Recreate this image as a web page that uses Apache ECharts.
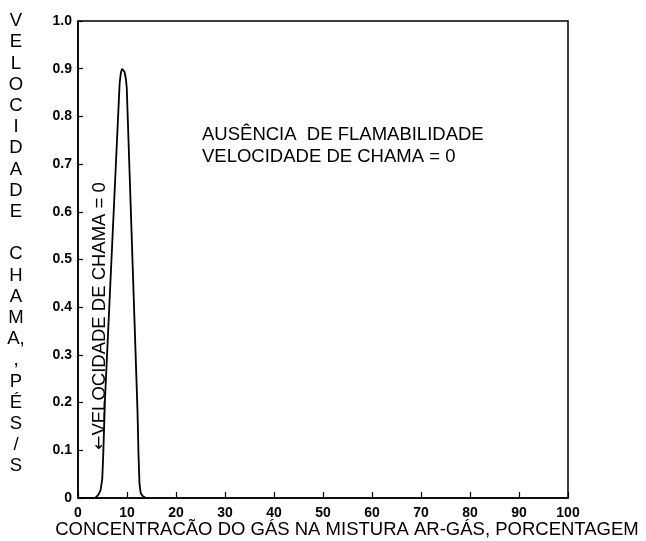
<!DOCTYPE html>
<html>
<head>
<meta charset="utf-8">
<script src="https://cdn.jsdelivr.net/npm/echarts@6/dist/echarts.min.js"></script>
<style>
html,body{margin:0;padding:0;background:#fff;}
#c{width:646px;height:541px;}
</style>
</head>
<body>
<div id="c"></div>
<script>
// Data
var concentration = [0, 3.5, 4.1, 4.6, 4.95, 5.15, 5.3, 5.5, 8.5, 8.75, 9.0, 9.25, 9.5, 9.75, 9.95, 12.15, 12.35, 12.55, 12.8, 13.2, 13.7, 14.5];
var flameSpeed    = [0, 0, 0.006, 0.016, 0.04, 0.09, 0.14, 0.205, 0.87, 0.892, 0.9, 0.9, 0.893, 0.88, 0.86, 0.18, 0.09, 0.03, 0.01, 0.004, 0.001, 0];
var xTickLabels = ['0','10','20','30','40','50','60','70','80','90','100'];
var yTickLabels = ['0','0.1','0.2','0.3','0.4','0.5','0.6','0.7','0.8','0.9','1.0'];
var yTitleLines = ['V','E','L','O','C','I','D','A','D','E','','C','H','A','M','A,',',','P','É','S','/','S'];
var xTitle = 'CONCENTRACÃO DO GÁS NA MISTURA AR-GÁS, PORCENTAGEM';
var noteLines = ['AUSÊNCIA  DE FLAMABILIDADE', 'VELOCIDADE DE CHAMA = 0'];
var sideArrow = '←';
var sideNote = 'VELOCIDADE DE CHAMA = 0';

var pts = concentration.map(function(x, i){ return [x, flameSpeed[i]]; });
var FONT = "'Liberation Sans', Arial, sans-serif";

var chart = echarts.init(document.getElementById('c'));
chart.setOption({
  animation: false,
  backgroundColor: '#fff',
  grid: { left: 78, right: 78, top: 21, bottom: 43, show: true, borderColor: '#000', borderWidth: 1.5, backgroundColor: 'transparent' },
  xAxis: {
    type: 'value', min: 0, max: 100, interval: 10,
    axisLine: { show: true, onZero: false, lineStyle: { color: '#000', width: 1.5 } },
    axisTick: { show: true, inside: true, length: 6, lineStyle: { color: '#000', width: 1.2 } },
    axisLabel: { margin: 8, color: '#000', fontFamily: FONT, fontWeight: 'bold', fontSize: 14,
      formatter: function(v){ return xTickLabels[Math.round(v/10)]; } },
    splitLine: { show: false }
  },
  yAxis: {
    type: 'value', min: 0, max: 1, interval: 0.1,
    axisLine: { show: true, lineStyle: { color: '#000', width: 1.5 } },
    axisTick: { show: true, inside: true, length: 5, lineStyle: { color: '#000', width: 1.2 } },
    axisLabel: { margin: 6, color: '#000', fontFamily: FONT, fontWeight: 'bold', fontSize: 14,
      formatter: function(v){ return yTickLabels[Math.round(v*10)]; } },
    splitLine: { show: false }
  },
  series: [{
    type: 'line', data: pts, showSymbol: false, smooth: false,
    lineStyle: { color: '#000', width: 1.8 }
  }],
  graphic: [
    { type: 'text', x: 16, y: 10.5, style: { text: yTitleLines.join('\n'), font: '18.5px ' + FONT, lineHeight: 21.2,
        fill: '#000', align: 'center', verticalAlign: 'top', textAlign: 'center', textVerticalAlign: 'top' } },
    { type: 'text', x: 347, y: 530, style: { text: xTitle, font: '18.5px ' + FONT,
        fill: '#000', align: 'center', verticalAlign: 'middle', textAlign: 'center', textVerticalAlign: 'middle' } },
    { type: 'text', x: 202, y: 124, style: { text: noteLines.join('\n'), font: '18.5px ' + FONT, lineHeight: 22,
        fill: '#000', align: 'left', verticalAlign: 'top', textAlign: 'left', textVerticalAlign: 'top' } },
    { type: 'text', x: 100, y: 316, rotation: Math.PI/2, style: {
        text: '{a|' + sideArrow + '}{t|' + sideNote + '}',
        rich: { a: { fontFamily: "'DejaVu Sans'", fontSize: 17, fill: '#000', color: '#000' },
                t: { fontFamily: FONT, fontSize: 18.5, fill: '#000', color: '#000' } },
        fill: '#000', align: 'center', verticalAlign: 'middle', textAlign: 'center', textVerticalAlign: 'middle' } }
  ]
});
</script>
</body>
</html>
